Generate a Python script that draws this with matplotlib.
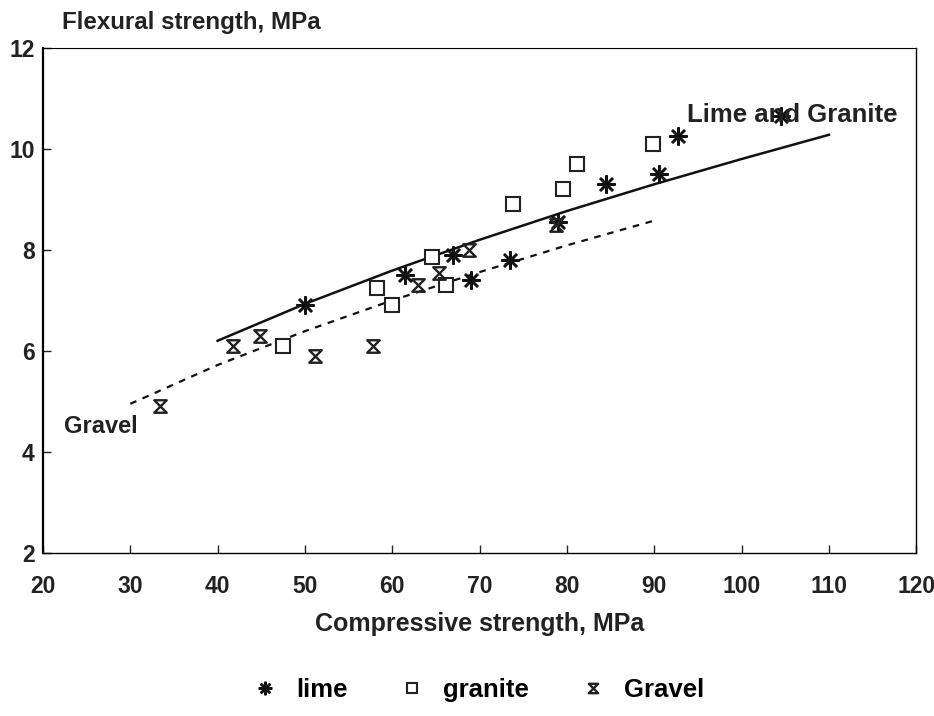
import numpy as np
import matplotlib
matplotlib.use("Agg")
import matplotlib.pyplot as plt
from matplotlib.path import Path

plt.rcParams['font.family'] = ['Liberation Sans', 'DejaVu Sans']

# Donnees
lime_x = [50, 61.5, 67, 69, 73.5, 79, 84.5, 90.5, 92.7, 104.5]
lime_y = [6.9, 7.5, 7.9, 7.4, 7.8, 8.55, 9.3, 9.5, 10.25, 10.65]

granite_x = [47.5, 58.3, 60.0, 64.5, 66.2, 73.8, 79.6, 81.2, 89.9]
granite_y = [6.1, 7.25, 6.9, 7.85, 7.3, 8.9, 9.2, 9.7, 10.1]

gravel_x = [33.4, 41.8, 44.8, 51.1, 57.8, 63.0, 65.3, 68.8, 78.7]
gravel_y = [4.9, 6.1, 6.3, 5.9, 6.1, 7.3, 7.55, 8.0, 8.5]

# courbes de tendance (lues)
fit_lg_x = [40, 50, 60, 70, 80, 90, 100, 110]
fit_lg_y = [6.2, 6.93, 7.59, 8.2, 8.77, 9.3, 9.8, 10.28]
fit_gr_x = [30, 40, 50, 60, 70, 80, 90]
fit_gr_y = [4.95, 5.72, 6.39, 7.0, 7.56, 8.09, 8.58]

xticks = [20, 30, 40, 50, 60, 70, 80, 90, 100, 110, 120]
yticks = [2, 4, 6, 8, 10, 12]

# marqueur sablier
hourglass = Path([(-1, 1), (1, 1), (-1, -1), (1, -1), (-1, 1)],
                 [Path.MOVETO, Path.LINETO, Path.LINETO, Path.LINETO, Path.CLOSEPOLY])
txt = "#222222"

fig = plt.figure(figsize=(9.34, 7.16), dpi=100)
ax = fig.add_axes([0.046, 0.228, 0.935, 0.705])

ax.plot(fit_lg_x, fit_lg_y, color="#111111", lw=1.8)
ax.plot(fit_gr_x, fit_gr_y, color="#111111", lw=1.6, ls=(0, (3, 3)))

ax.plot(lime_x, lime_y, ls="none", marker=(8, 2, 0), ms=13, color="#111111",
        markeredgewidth=1.8, label="lime")
ax.plot(granite_x, granite_y, ls="none", marker="s", ms=10, mfc="white",
        mec="#222222", mew=1.5, label="granite")
ax.plot(gravel_x, gravel_y, ls="none", marker=hourglass, ms=9, mfc="none",
        mec="#222222", mew=1.7, label="Gravel")

ax.text(93.7, 10.67, "Lime and Granite", fontsize=18.5, fontweight="bold",
        color=txt, va="center", ha="left")
ax.text(22.4, 4.5, "Gravel", fontsize=17, fontweight="bold",
        color=txt, va="center", ha="left")

ax.set_xlim(20, 120)
ax.set_ylim(2, 12)
ax.set_xticks(xticks)
ax.set_yticks(yticks)
ax.tick_params(direction="in", length=6, width=1, labelsize=16.5, colors=txt)
ax.tick_params(axis="x", pad=16)
ax.tick_params(axis="y", pad=6)
for t in ax.get_xticklabels() + ax.get_yticklabels():
    t.set_fontweight("bold")
ax.spines["top"].set_linestyle((0, (4, 1)))
ax.spines["top"].set_linewidth(0.8)
ax.spines["bottom"].set_linewidth(1.0)
ax.spines["left"].set_linewidth(1.6)
ax.spines["right"].set_linewidth(1.0)

fig.text(0.066, 0.969, "Flexural strength, MPa", fontsize=17.4, fontweight="bold",
         color=txt, va="center", ha="left")
ax.set_xlabel("Compressive strength, MPa", fontsize=18, fontweight="bold",
              color=txt, labelpad=10)

fig.legend(loc="center", bbox_to_anchor=(0.512, 0.036), ncol=3, frameon=False,
           markerscale=0.75, handlelength=1.0, handletextpad=0.7, columnspacing=2.0,
           prop={"weight": "bold", "size": 18.5})

fig.savefig("out.png", dpi=100, facecolor="white")
